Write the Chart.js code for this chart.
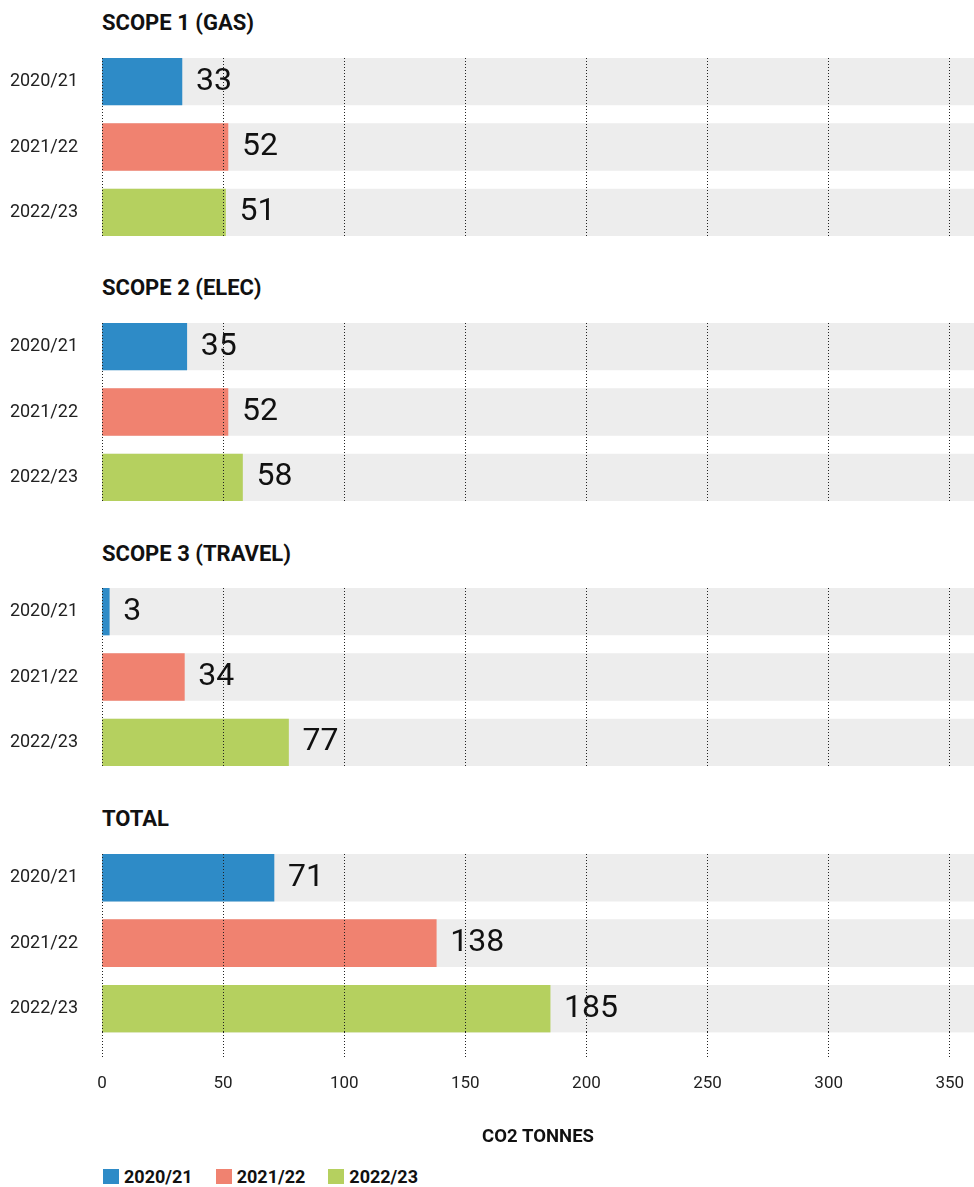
<!DOCTYPE html>
<html><head><meta charset="utf-8">
<script src="https://cdn.jsdelivr.net/npm/chart.js@4/dist/chart.umd.min.js"></script>
<style>
html,body{margin:0;padding:0;background:#fff;width:974px;height:1187px;overflow:hidden;font-family:Roboto,sans-serif;}
.title{position:absolute;left:102px;font-weight:bold;font-size:22px;line-height:22px;color:#111;white-space:nowrap;}
canvas{position:absolute;left:0;}
#legend{position:absolute;left:103px;top:1167px;display:flex;align-items:center;height:19px;}
.item{display:flex;align-items:center;margin-right:23px;font-weight:bold;font-size:18px;line-height:19px;color:#111;}
.sw{width:16px;height:15px;margin-right:5px;}
</style></head>
<body>
<div id="root"></div>
<div id="legend"></div>
<script>
// ---- data ----
const categories = ['2020/21', '2021/22', '2022/23'];
const groupTitles = ['SCOPE 1 (GAS)', 'SCOPE 2 (ELEC)', 'SCOPE 3 (TRAVEL)', 'TOTAL'];
const scope1Gas = [33, 52, 51];
const scope2Elec = [35, 52, 58];
const scope3Travel = [3, 34, 77];
const totalCO2 = [71, 138, 185];
const xTickValues = [0, 50, 100, 150, 200, 250, 300, 350];
const axisMax = 360;
const axisTitle = 'CO2 TONNES';

// ---- styles ----
const barColors = ['#2E8BC7', '#F08270', '#B5D05F'];
const trackColor = '#EDEDED';
const groupValues = [scope1Gas, scope2Elec, scope3Travel, totalCO2];
const canvasTops = [58, 323, 588, 854];
const titleTops = [11.5, 277, 542.5, 808];

const valueLabels = {
  id: 'valueLabels',
  afterDatasetsDraw(chart) {
    const ctx = chart.ctx;
    chart.data.datasets.forEach((ds, di) => {
      if (ds.isTrack) return;
      const meta = chart.getDatasetMeta(di);
      meta.data.forEach((bar, i) => {
        ctx.save();
        ctx.font = '32px Roboto';
        ctx.fillStyle = '#111';
        ctx.textBaseline = 'middle';
        ctx.textAlign = 'left';
        ctx.fillText(String(ds.data[i].x), bar.x + 14, bar.y);
        ctx.restore();
      });
    });
  }
};

const root = document.getElementById('root');
groupValues.forEach((values, g) => {
  const t = document.createElement('div');
  t.className = 'title';
  t.style.top = titleTops[g] + 'px';
  t.textContent = groupTitles[g];
  root.appendChild(t);

  const isLast = g === groupValues.length - 1;
  const cv = document.createElement('canvas');
  cv.width = 974;
  cv.height = isLast ? 310 : 178;
  cv.style.top = canvasTops[g] + 'px';
  root.appendChild(cv);

  const datasets = categories.map((c, i) => ({
    label: c,
    data: [{ x: values[i], y: i }],
    backgroundColor: barColors[i],
    order: 0
  }));
  datasets.push({
    label: 'track',
    isTrack: true,
    data: categories.map((c, i) => ({ x: axisMax, y: i })),
    backgroundColor: trackColor,
    order: 1
  });

  new Chart(cv, {
    type: 'bar',
    data: { datasets },
    plugins: [valueLabels],
    options: {
      indexAxis: 'y',
      responsive: false,
      animation: false,
      devicePixelRatio: 1,
      layout: { padding: 0, autoPadding: false },
      datasets: { bar: { grouped: false, barThickness: 47, borderWidth: 0 } },
      plugins: { legend: { display: false }, tooltip: { enabled: false } },
      scales: {
        x: {
          type: 'linear', min: 0, max: axisMax, position: 'bottom', z: 1,
          afterBuildTicks: s => { s.ticks = xTickValues.map(v => ({ value: v })); },
          afterFit: s => { s.paddingLeft = 0; s.paddingRight = 0; },
          grid: { z: 1, color: '#222', lineWidth: 1, drawTicks: isLast, tickLength: 25,
                  tickColor: '#222', tickWidth: 1, tickBorderDash: [1, 2] },
          border: { display: false, dash: [1, 2] },
          ticks: { display: isLast, padding: 16, color: '#222',
                   font: { family: 'Roboto', size: 17 } },
          title: { display: isLast, text: axisTitle, color: '#111',
                   font: { family: 'Roboto', size: 18.5, weight: 'bold' },
                   padding: { top: 16, bottom: 16 } }
        },
        y: {
          type: 'linear', min: -0.3588, max: 2.3588, reverse: true, offset: false,
          afterBuildTicks: s => { s.ticks = categories.map((c, i) => ({ value: i })); },
          afterFit: s => { s.width = 102; s.paddingTop = 0; s.paddingBottom = 0; },
          grid: { display: false, drawTicks: true, tickLength: 24 },
          border: { display: false },
          ticks: { padding: 0, color: '#222', font: { family: 'Roboto', size: 18 },
                   callback: v => categories[v] }
        }
      }
    }
  });
});

const legend = document.getElementById('legend');
categories.forEach((c, i) => {
  const it = document.createElement('div');
  it.className = 'item';
  const sw = document.createElement('div');
  sw.className = 'sw';
  sw.style.background = barColors[i];
  it.appendChild(sw);
  it.appendChild(document.createTextNode(c));
  legend.appendChild(it);
});
</script>
</body></html>
